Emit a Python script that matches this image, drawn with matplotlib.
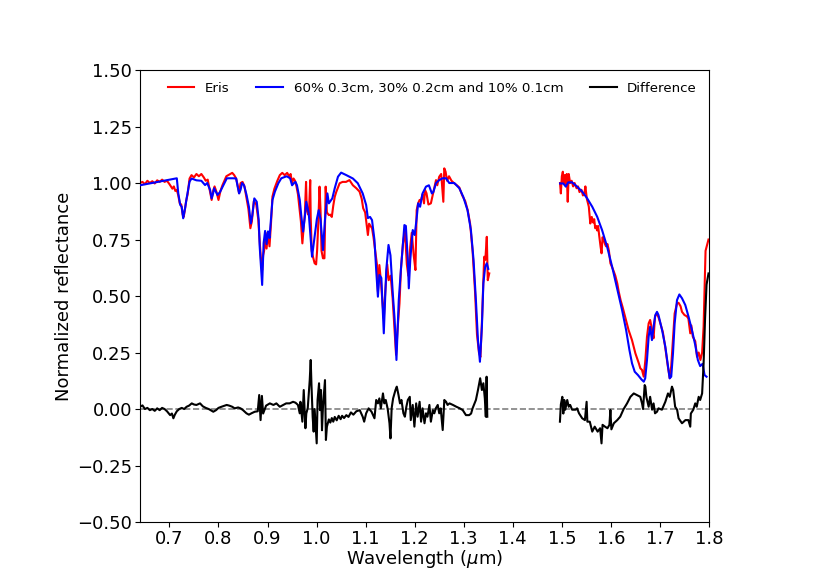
import numpy as np
import matplotlib
matplotlib.use("Agg")
import matplotlib.pyplot as plt

nan = np.nan

# ---- Model: 60% 0.3cm, 30% 0.2cm and 10% 0.1cm (blue) ----
wl_model = [0.640, 0.715, 0.718, 0.722, 0.725, 0.728, 0.732, 0.735, 0.741, 0.745,
            0.755, 0.765, 0.7726, 0.777, 0.783, 0.786, 0.789, 0.791, 0.798, 0.803,
            0.810, 0.817, 0.830, 0.836, 0.839, 0.842, 0.845, 0.848, 0.852, 0.857,
            0.862, 0.866, 0.869, 0.873, 0.878, 0.882, 0.884, 0.889, 0.892, 0.895,
            0.898, 0.901, 0.904, 0.907, 0.910, 0.915, 0.922, 0.928, 0.939, 0.946,
            0.950, 0.954, 0.957, 0.960, 0.9657, 0.969, 0.9725, 0.976, 0.979, 0.984,
            0.9907, 0.996, 1.0005, 1.0043, 1.008, 1.013, 1.017, 1.022, 1.025, 1.032,
            1.037, 1.0436, 1.050, 1.0606, 1.074, 1.084, 1.094, 1.101, 1.1045, 1.109,
            1.113, 1.118, 1.1215, 1.125, 1.128, 1.132, 1.137, 1.142, 1.1466, 1.1506,
            1.1553, 1.159, 1.1628, 1.1675, 1.172, 1.179, 1.182, 1.186, 1.188, 1.191,
            1.196, 1.200, 1.204, 1.207, 1.211, 1.216, 1.223, 1.229, 1.235, 1.238,
            1.2435, 1.250, 1.257, 1.2638, 1.2705, 1.2807, 1.291, 1.299, 1.3077, 1.3146,
            1.320, 1.3248, 1.329, 1.333, 1.337, 1.340, 1.3437, 1.347, 1.350,
            1.42,
            1.4963, 1.503, 1.508, 1.513, 1.521, 1.531, 1.5415, 1.5517, 1.562, 1.572,
            1.582, 1.5923, 1.6025, 1.6126, 1.6228, 1.631, 1.6378, 1.6431, 1.6486, 1.6553,
            1.6622, 1.667, 1.670, 1.6736, 1.677, 1.680, 1.6837, 1.687, 1.6906, 1.694,
            1.697, 1.7043, 1.711, 1.7157, 1.7198, 1.723, 1.7266, 1.730, 1.7348, 1.7396,
            1.745, 1.7517, 1.7584, 1.7652, 1.772, 1.7773, 1.782, 1.787, 1.791, 1.795]
model = [0.990, 1.021, 0.954, 0.903, 0.895, 0.844, 0.890, 0.932, 1.006, 1.020,
         1.012, 1.010, 0.991, 1.000, 0.969, 0.932, 0.954, 0.977, 0.947, 0.960,
         0.990, 1.021, 1.021, 1.020, 0.985, 0.954, 0.970, 1.000, 0.990, 0.949,
         0.895, 0.821, 0.858, 0.932, 0.917, 0.836, 0.718, 0.549, 0.734, 0.788,
         0.730, 0.786, 0.757, 0.840, 0.925, 0.962, 0.999, 1.021, 1.030, 1.021,
         0.990, 1.000, 1.005, 0.990, 0.925, 0.851, 0.785, 0.850, 0.917, 0.866,
         0.674, 0.762, 0.840, 0.880, 0.840, 0.703, 0.836, 0.954, 0.910, 0.932,
         0.977, 1.028, 1.046, 1.035, 1.020, 0.999, 0.954, 0.903, 0.845, 0.850,
         0.836, 0.748, 0.615, 0.497, 0.593, 0.580, 0.335, 0.615, 0.726, 0.680,
         0.512, 0.400, 0.217, 0.482, 0.620, 0.814, 0.810, 0.659, 0.534, 0.660,
         0.792, 0.770, 0.844, 0.910, 0.895, 0.954, 0.984, 0.990, 0.954, 0.960,
         1.000, 1.013, 1.021, 1.021, 1.000, 1.000, 0.977, 0.939, 0.880, 0.792,
         0.659, 0.482, 0.305, 0.209, 0.364, 0.556, 0.630, 0.645, 0.620,
         nan,
         0.998, 0.998, 0.984, 1.003, 1.003, 0.984, 0.962, 0.932, 0.895, 0.851,
         0.792, 0.718, 0.630, 0.534, 0.438, 0.350, 0.261, 0.202, 0.165, 0.150,
         0.131, 0.121, 0.136, 0.217, 0.320, 0.364, 0.305, 0.364, 0.416, 0.430,
         0.416, 0.350, 0.276, 0.202, 0.136, 0.143, 0.246, 0.379, 0.482, 0.507,
         0.490, 0.460, 0.408, 0.350, 0.283, 0.217, 0.190, 0.200, 0.150, 0.143]

# ---- Eris (red) ----
wl_eris = [0.640, 0.645, 0.650, 0.655, 0.660, 0.665, 0.670, 0.675, 0.680, 0.685,
           0.690, 0.695, 0.700, 0.703, 0.706, 0.709, 0.712, 0.715, 0.718, 0.721,
           0.724, 0.727, 0.729, 0.731, 0.734, 0.737, 0.741, 0.745, 0.750, 0.755,
           0.760, 0.765, 0.770, 0.774, 0.778, 0.782, 0.786, 0.789, 0.792, 0.796,
           0.800, 0.804, 0.808, 0.812, 0.816, 0.820, 0.824, 0.828, 0.832, 0.836,
           0.839, 0.842, 0.845, 0.849, 0.853, 0.857, 0.861, 0.865, 0.868, 0.872,
           0.877, 0.881, 0.884, 0.887, 0.889, 0.891, 0.893, 0.896, 0.898, 0.901,
           0.904, 0.907, 0.910, 0.914, 0.920, 0.925, 0.930, 0.935, 0.940, 0.944,
           0.947, 0.950, 0.953, 0.956, 0.959, 0.962, 0.965, 0.968, 0.971, 0.9735,
           0.976, 0.9785, 0.980, 0.983, 0.985, 0.987, 0.988, 0.990, 0.993, 0.996,
           0.999, 1.001, 1.003, 1.006, 1.008, 1.010, 1.013, 1.016, 1.0185, 1.021,
           1.025, 1.028, 1.031, 1.034, 1.037, 1.040, 1.047, 1.053, 1.060, 1.067,
           1.074, 1.081, 1.0876, 1.092, 1.095, 1.099, 1.1046, 1.107, 1.110, 1.113,
           1.116, 1.1195, 1.123, 1.125, 1.128, 1.131, 1.134, 1.137, 1.140, 1.144,
           1.147, 1.151, 1.155, 1.158, 1.162, 1.165, 1.169, 1.172, 1.176, 1.180,
           1.184, 1.187, 1.191, 1.194, 1.198, 1.2015, 1.204, 1.207, 1.210, 1.213,
           1.216, 1.219, 1.221, 1.224, 1.228, 1.233, 1.236, 1.2435, 1.246, 1.250,
           1.254, 1.2584, 1.2603, 1.263, 1.266, 1.270, 1.275, 1.280, 1.286, 1.291,
           1.297, 1.303, 1.308, 1.313, 1.318, 1.323, 1.327, 1.331, 1.334, 1.337,
           1.3417, 1.344, 1.347, 1.349, 1.352,
           1.42,
           1.4963, 1.498, 1.500, 1.502, 1.504, 1.506, 1.508, 1.510, 1.512, 1.514,
           1.517, 1.520, 1.523, 1.526, 1.530, 1.533, 1.536, 1.540, 1.543, 1.546,
           1.548, 1.551, 1.555, 1.558, 1.561, 1.564, 1.566, 1.568, 1.570, 1.572,
           1.574, 1.576, 1.579, 1.581, 1.583, 1.586, 1.588, 1.590, 1.593,
           1.596, 1.599, 1.602, 1.606, 1.609, 1.613, 1.616, 1.620,
           1.624, 1.629, 1.636, 1.643, 1.650, 1.657, 1.660, 1.6634, 1.667, 1.6703,
           1.6736, 1.677, 1.680, 1.684, 1.687, 1.690, 1.694, 1.698, 1.702, 1.706,
           1.711, 1.716, 1.720, 1.723, 1.7266, 1.730, 1.7348, 1.738, 1.742, 1.745,
           1.750, 1.755, 1.758, 1.7618, 1.764, 1.767, 1.772, 1.7756, 1.779, 1.7825,
           1.786, 1.789, 1.793, 1.799]
eris = [1.000, 1.005, 0.995, 1.010, 1.000, 1.008, 0.998, 1.012, 1.005, 1.015,
        1.005, 1.010, 0.995, 0.985, 0.975, 0.985, 0.965, 0.970, 0.945, 0.910,
        0.905, 0.860, 0.850, 0.875, 0.920, 0.950, 1.020, 1.035, 1.025, 1.040,
        1.030, 1.040, 1.025, 1.010, 1.015, 0.970, 0.925, 0.965, 0.985, 0.960,
        0.925, 0.965, 0.990, 1.010, 1.030, 1.035, 1.040, 1.045, 1.035, 1.020,
        0.990, 0.955, 1.000, 1.005, 0.985, 0.935, 0.885, 0.800, 0.830, 0.920,
        0.905, 0.840, 0.740, 0.650, 0.615, 0.680, 0.700, 0.780, 0.710, 0.780,
        0.720, 0.820, 0.940, 0.975, 1.010, 1.035, 1.045, 1.035, 1.045, 1.030,
        1.040, 1.000, 1.020, 1.010, 0.985, 0.950, 0.890, 0.830, 0.733, 0.800,
        0.860, 1.005, 0.880, 0.860, 0.900, 1.013, 0.850, 0.700, 0.670, 0.645,
        0.640, 0.700, 0.800, 0.984, 0.880, 0.700, 0.667, 0.667, 0.984, 0.870,
        0.858, 0.860, 0.850, 0.900, 0.939, 0.960, 0.999, 1.005, 1.005, 1.013,
        0.990, 0.977, 0.962, 0.930, 0.888, 0.870, 0.770, 0.820, 0.810, 0.800,
        0.760, 0.700, 0.640, 0.520, 0.637, 0.570, 0.480, 0.400, 0.520, 0.640,
        0.570, 0.590, 0.490, 0.380, 0.240, 0.350, 0.467, 0.620, 0.730, 0.790,
        0.640, 0.590, 0.720, 0.780, 0.680, 0.615, 0.880, 0.910, 0.925, 0.925,
        0.950, 0.910, 0.970, 0.955, 0.905, 0.910, 0.940, 1.013, 0.990, 1.028,
        1.040, 0.917, 1.065, 1.050, 1.010, 1.030, 1.010, 1.000, 0.990, 0.980,
        0.945, 0.920, 0.880, 0.820, 0.700, 0.520, 0.330, 0.250, 0.230, 0.380,
        0.674, 0.660, 0.762, 0.570, 0.600,
        nan,
        1.000, 0.954, 1.030, 1.050, 1.000, 1.035, 0.990, 1.040, 0.917, 1.040,
        1.000, 1.010, 0.985, 1.000, 0.977, 0.985, 0.960, 0.970, 0.945, 0.955,
        0.985, 0.930, 0.895, 0.821, 0.850, 0.825, 0.840, 0.800, 0.810, 0.790,
        0.810, 0.770, 0.718, 0.689, 0.760, 0.745, 0.730, 0.720, 0.730,
        0.700, 0.645, 0.630, 0.608, 0.590, 0.556, 0.519, 0.480,
        0.450, 0.408, 0.350, 0.305, 0.246, 0.202, 0.180, 0.173, 0.143, 0.217,
        0.320, 0.379, 0.394, 0.350, 0.313, 0.410, 0.423, 0.400, 0.370, 0.340,
        0.270, 0.190, 0.136, 0.190, 0.310, 0.423, 0.467, 0.470, 0.455, 0.430,
        0.416, 0.410, 0.400, 0.335, 0.370, 0.320, 0.300, 0.231, 0.250, 0.217,
        0.250, 0.364, 0.700, 0.750]

# ---- Difference (black) ----
wl_diff = [0.640, 0.645, 0.650, 0.655, 0.660, 0.665, 0.670, 0.675, 0.680, 0.685,
           0.690, 0.695, 0.7014, 0.705, 0.708, 0.711, 0.715, 0.720, 0.725, 0.730,
           0.735, 0.740, 0.7455, 0.750, 0.755, 0.7624, 0.768, 0.774, 0.780, 0.7894,
           0.795, 0.800, 0.806, 0.8167, 0.822, 0.828, 0.833, 0.840, 0.845, 0.850,
           0.857, 0.862, 0.868, 0.874, 0.880, 0.883, 0.8858, 0.8885, 0.891, 0.897,
           0.9047, 0.912, 0.918, 0.925, 0.932, 0.938, 0.945, 0.952, 0.957, 0.962,
           0.9656, 0.967, 0.971, 0.9738, 0.9772, 0.979, 0.982, 0.986, 0.988, 0.9895,
           0.992, 0.994, 0.996, 1.0002, 1.002, 1.005, 1.007, 1.009, 1.011, 1.013,
           1.0171, 1.019,
           1.021, 1.025, 1.028, 1.031, 1.034, 1.037, 1.041, 1.045, 1.049, 1.052,
           1.056, 1.0606, 1.065, 1.070, 1.075, 1.081, 1.088,
           1.094, 1.097, 1.101, 1.106, 1.112, 1.118, 1.1215, 1.125,
           1.128, 1.131, 1.1353, 1.138, 1.141, 1.145, 1.1486, 1.1506, 1.153, 1.156,
           1.1608, 1.1635, 1.167, 1.170, 1.173, 1.177, 1.180, 1.183, 1.186, 1.190,
           1.192, 1.196, 1.1994, 1.203, 1.206, 1.210, 1.213, 1.216, 1.220, 1.223,
           1.226, 1.230, 1.233, 1.237, 1.240, 1.243, 1.247, 1.250, 1.253, 1.2571,
           1.2604, 1.264, 1.267, 1.271, 1.278, 1.285, 1.292, 1.298, 1.3045, 1.311,
           1.315, 1.318, 1.3248, 1.329, 1.3335, 1.337, 1.340, 1.343, 1.345, 1.3466,
           1.348,
           1.42,
           1.4961, 1.498, 1.501, 1.503, 1.505, 1.507, 1.511, 1.514, 1.517, 1.521,
           1.528, 1.531, 1.535, 1.5415, 1.547, 1.5505, 1.552, 1.557, 1.562, 1.567,
           1.573, 1.578, 1.5809, 1.583, 1.588, 1.593, 1.597, 1.599, 1.601, 1.606,
           1.613, 1.619, 1.626, 1.633, 1.6398, 1.6466, 1.653, 1.660, 1.6635, 1.6656,
           1.6689, 1.6703, 1.6723, 1.677, 1.680, 1.684, 1.687, 1.690, 1.694, 1.697,
           1.704, 1.711, 1.7164, 1.720, 1.7245, 1.727, 1.731, 1.735, 1.738, 1.745,
           1.752, 1.758, 1.7618, 1.763, 1.768, 1.772, 1.775, 1.779, 1.782, 1.786,
           1.789, 1.792, 1.795, 1.799]
diff = [0.010, 0.016, 0.000, 0.005, -0.005, 0.000, -0.008, 0.003, -0.005, 0.005,
        0.000, -0.010, -0.027, -0.020, -0.041, -0.025, -0.010, 0.000, 0.005, 0.000,
        0.010, 0.015, 0.025, 0.020, 0.018, 0.025, 0.012, 0.005, 0.000, -0.012,
        -0.005, 0.005, 0.010, 0.018, 0.015, 0.010, 0.003, 0.007, 0.003, -0.005,
        -0.019, -0.025, -0.018, -0.012, -0.010, 0.062, -0.049, 0.058, -0.020, 0.015,
        0.025, 0.018, 0.025, 0.010, 0.018, 0.025, 0.025, 0.032, 0.028, 0.018,
        -0.019, 0.032, -0.056, 0.084, -0.085, -0.020, 0.005, 0.128, 0.217, 0.110,
        -0.035, -0.100, 0.000, -0.152, 0.040, 0.114, -0.005, 0.084, -0.094, 0.010,
        0.128, -0.137,
        -0.078, -0.046, -0.060, -0.040, -0.056, -0.035, -0.050, -0.030, -0.045, -0.030,
        -0.040, -0.027, -0.035, -0.015, -0.025, -0.010, -0.005,
        -0.034, -0.056, -0.019, 0.003, -0.012, -0.041, 0.040, 0.025,
        0.047, 0.003, 0.069, 0.025, 0.040, 0.000, -0.063, -0.130, 0.003, 0.047,
        0.084, 0.099, 0.062, 0.025, 0.040, -0.019, -0.034, 0.010, 0.040, 0.054,
        -0.049, 0.018, -0.078, 0.025, -0.034, 0.032, -0.056, 0.003, -0.063, -0.019,
        -0.034, 0.018, -0.056, -0.005, -0.019, 0.003, 0.018, -0.019, 0.003, -0.093,
        0.040, 0.032, 0.018, 0.025, 0.018, 0.010, 0.003, -0.005, -0.027, -0.027,
        -0.020, 0.003, 0.040, 0.084, 0.136, 0.084, 0.114, 0.047, -0.034, 0.143,
        -0.034,
        nan,
        -0.056, 0.020, 0.054, -0.020, 0.040, -0.003, 0.040, 0.010, 0.018, -0.003,
        -0.003, 0.003, -0.019, -0.041, -0.049, 0.032, -0.056, -0.056, -0.100, -0.078,
        -0.100, -0.085, -0.152, -0.070, -0.078, -0.085, -0.070, -0.004, -0.090, -0.063,
        -0.049, -0.034, 0.000, 0.025, 0.054, 0.069, 0.062, 0.054, 0.025, 0.000,
        0.106, 0.099, 0.054, 0.010, 0.054, -0.003, 0.025, -0.019, -0.012, 0.003,
        -0.003, 0.032, 0.069, 0.054, 0.099, 0.084, 0.010, -0.003, -0.041, -0.063,
        -0.049, -0.049, -0.078, -0.020, -0.003, 0.025, 0.010, 0.054, 0.040, 0.069,
        0.200, 0.400, 0.550, 0.600]

model_label = "60% 0.3cm, 30% 0.2cm and 10% 0.1cm"
x_ticks = [0.7, 0.8, 0.9, 1.0, 1.1, 1.2, 1.3, 1.4, 1.5, 1.6, 1.7, 1.8]
y_ticks = [-0.5, -0.25, 0.0, 0.25, 0.5, 0.75, 1.0, 1.25, 1.5]

fig = plt.figure(figsize=(8.3, 5.87), dpi=100)
ax = fig.add_axes([0.1687, 0.1107, 0.6855, 0.7700])

ax.axhline(0.0, color="gray", linestyle="--", linewidth=1.2, zorder=1)
ax.plot(wl_eris, eris, color="red", linewidth=1.5, label="Eris", zorder=2)
ax.plot(wl_model, model, color="blue", linewidth=1.5, label=model_label, zorder=3)
ax.plot(wl_diff, diff, color="black", linewidth=1.5, label="Difference", zorder=4)

ax.set_xlim(0.64, 1.8)
ax.set_ylim(-0.5, 1.5)
ax.set_xticks(x_ticks)
ax.set_yticks(y_ticks)
ax.tick_params(labelsize=13, pad=2.5, length=3.3)
ax.set_xlabel(r"Wavelength ($\mu$m)", fontsize=13, labelpad=0)
ax.set_ylabel("Normalized reflectance", fontsize=13, labelpad=2.5)

ax.legend(loc="upper right", ncol=3, frameon=False, fontsize=9.6)

fig.savefig("out.png", dpi=100)
